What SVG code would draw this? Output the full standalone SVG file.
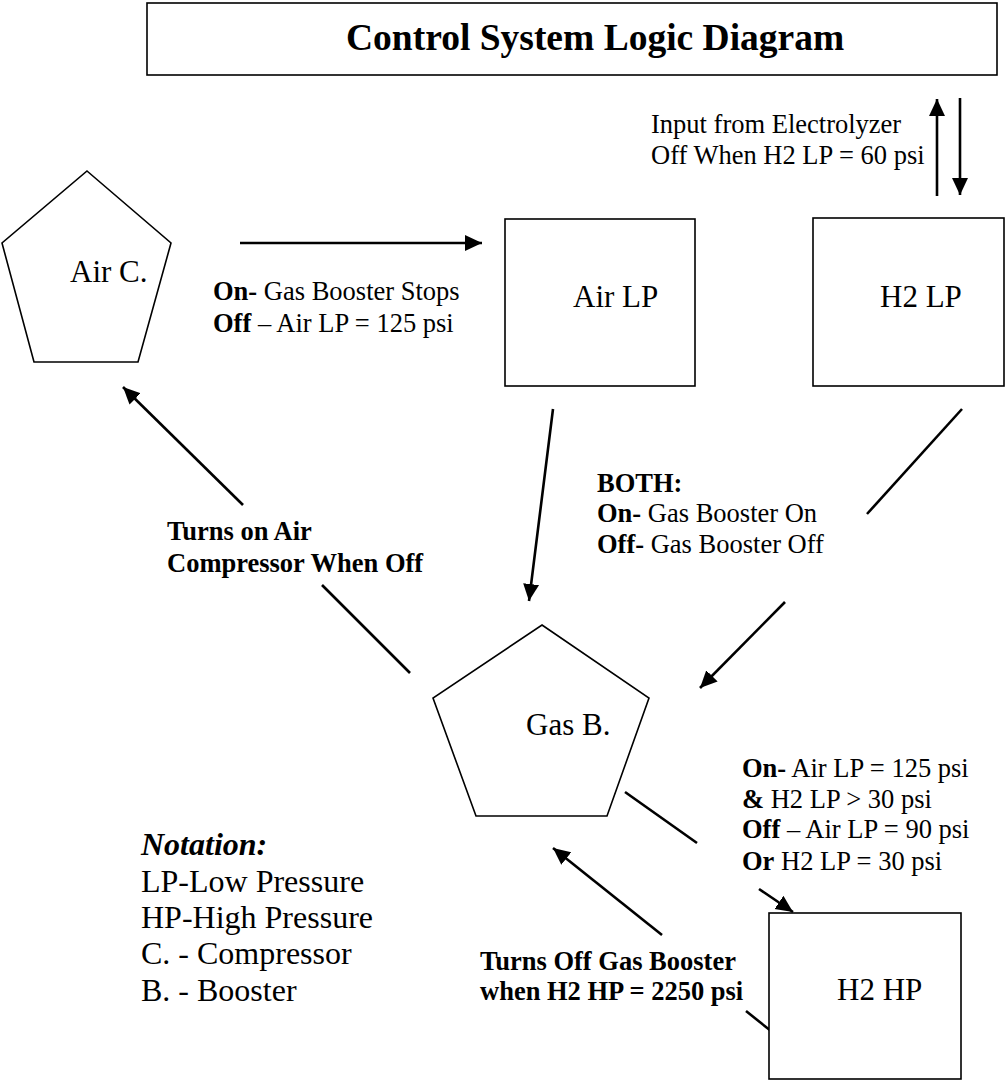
<svg xmlns="http://www.w3.org/2000/svg" width="1008" height="1082" viewBox="0 0 1008 1082">
<defs>
<marker id="ah" markerUnits="userSpaceOnUse" markerWidth="18" markerHeight="18" viewBox="0 0 18 18" refX="17" refY="9" orient="auto"><path d="M0,1 L17,9 L0,17 z" fill="#000"/></marker>
</defs>
<style>
text{font-family:"Liberation Serif","Times New Roman",serif;fill:#000}
.shape{fill:#fff;stroke:#000;stroke-width:1.6}
.conn{stroke:#000;stroke-width:2.6;fill:none}
.arr{marker-end:url(#ah)}
.lbl{font-size:26.5px}
.node{font-size:31px}
.b{font-weight:bold}
.note{font-size:32px}
</style>
<rect x="0" y="0" width="1008" height="1082" fill="#fff"/>
<g id="title">
<rect class="shape" x="147" y="3" width="850" height="72"/>
<text x="346" y="50" font-size="37.5" font-weight="bold">Control System Logic Diagram</text>
</g>
<g id="connectors">
<line class="conn arr" x1="937" y1="196" x2="937" y2="99"/>
<line class="conn arr" x1="960" y1="98" x2="960" y2="195"/>
<line class="conn arr" x1="240" y1="243" x2="482" y2="243"/>
<line class="conn arr" x1="553" y1="409" x2="529" y2="601"/>
<line class="conn" x1="962" y1="409" x2="867" y2="514"/>
<line class="conn arr" x1="785" y1="602" x2="700" y2="688"/>
<line class="conn" x1="410" y1="673" x2="322" y2="585"/>
<line class="conn arr" x1="243" y1="505" x2="123" y2="387"/>
<line class="conn" x1="625" y1="792" x2="697" y2="843"/>
<line class="conn arr" x1="759" y1="889" x2="793" y2="912"/>
<line class="conn" x1="771" y1="1031" x2="746" y2="1011"/>
<line class="conn arr" x1="662" y1="935" x2="553" y2="848"/>
</g>
<g id="air-c">
<polygon class="shape" points="87,171 171,243 138,362 34,362 2,243"/>
<text class="node" x="70" y="282">Air C.</text>
</g>
<g id="air-lp">
<rect class="shape" x="505" y="219" width="190" height="167"/>
<text class="node" x="573" y="307">Air LP</text>
</g>
<g id="h2-lp">
<rect class="shape" x="813" y="218" width="191" height="168"/>
<text class="node" x="880" y="307">H2 LP</text>
</g>
<g id="gas-b">
<polygon class="shape" points="542,625 649,698 607,816 476,816 433,698"/>
<text class="node" x="526" y="735">Gas B.</text>
</g>
<g id="h2-hp">
<rect class="shape" x="769" y="913" width="192" height="166"/>
<text class="node" x="837" y="1000">H2 HP</text>
</g>
<g id="labels">
<text class="lbl" x="651" y="133">Input from Electrolyzer</text>
<text class="lbl" x="651" y="164">Off When H2 LP = 60 psi</text>
<text class="lbl" x="213" y="300"><tspan class="b">On-</tspan> Gas Booster Stops</text>
<text class="lbl" x="213" y="332"><tspan class="b">Off</tspan> – Air LP = 125 psi</text>
<text class="lbl b" x="167" y="540">Turns on Air</text>
<text class="lbl b" x="167" y="572">Compressor When Off</text>
<text class="lbl b" x="597" y="492">BOTH:</text>
<text class="lbl" x="597" y="522"><tspan class="b">On-</tspan> Gas Booster On</text>
<text class="lbl" x="597" y="553"><tspan class="b">Off-</tspan> Gas Booster Off</text>
<text class="lbl" x="742" y="777"><tspan class="b">On-</tspan> Air LP = 125 psi</text>
<text class="lbl" x="742" y="808"><tspan class="b">&amp;</tspan> H2 LP &gt; 30 psi</text>
<text class="lbl" x="742" y="838"><tspan class="b">Off</tspan> – Air LP = 90 psi</text>
<text class="lbl" x="742" y="870"><tspan class="b">Or</tspan> H2 LP = 30 psi</text>
<text class="lbl b" x="480" y="970">Turns Off Gas Booster</text>
<text class="lbl b" x="480" y="1000">when H2 HP = 2250 psi</text>
</g>
<g id="notation">
<text class="note" x="141" y="855" font-weight="bold" font-style="italic">Notation:</text>
<text class="note" x="141" y="892">LP-Low Pressure</text>
<text class="note" x="141" y="928">HP-High Pressure</text>
<text class="note" x="141" y="964">C. - Compressor</text>
<text class="note" x="141" y="1001">B. - Booster</text>
</g>
</svg>
